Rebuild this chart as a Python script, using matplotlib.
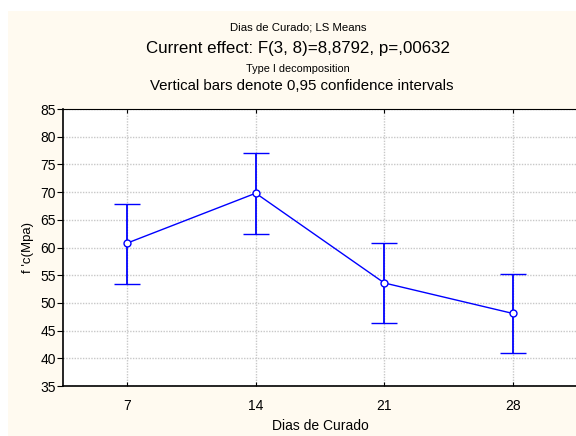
import matplotlib
matplotlib.use('Agg')
import matplotlib.pyplot as plt
import numpy as np

plt.rcParams['font.family'] = ['Liberation Sans', 'DejaVu Sans']

# Dias de curado vs LS means with 95% CI
dias = ['7', '14', '21', '28']
medias = [60.8, 69.8, 53.6, 48.1]
ic_sup = [67.9, 77.0, 60.8, 55.3]
ic_inf = [53.5, 62.5, 46.4, 40.9]

W, H = 576, 436
fig = plt.figure(figsize=(W / 100, H / 100), dpi=100, facecolor='white')
# cream panel (starts a few px in from the top-left corner)
fig.patches.append(plt.Rectangle((8 / W, 0), 1, 1 - 11 / H, transform=fig.transFigure,
                                 facecolor='#fffaf0', edgecolor='none', zorder=-10))

ax = fig.add_axes([63 / W, 1 - 386 / H, (577 - 63) / W, (386 - 109) / H])
ax.set_facecolor('white')

x = np.arange(len(dias))
err = [np.array(medias) - np.array(ic_inf), np.array(ic_sup) - np.array(medias)]
ax.errorbar(x, medias, yerr=err, color='#0000ff', lw=1.0, elinewidth=1.3,
            capsize=9.5, capthick=1.3, marker='o', markersize=5,
            markerfacecolor='white', markeredgecolor='#0000ff', markeredgewidth=1.0,
            zorder=3)

ax.set_xlim(-0.5, 3.5)
ax.set_ylim(35, 85)
ax.set_xticks(x)
ax.set_xticklabels(dias)
ax.set_yticks(np.arange(35, 86, 5))
ax.grid(True, color='#c8c8c8', linestyle=(0, (1, 1)), linewidth=1.0)
ax.set_axisbelow(True)

for s in ['left', 'bottom']:
    ax.spines[s].set_linewidth(1.2)
ax.spines['top'].set_linewidth(0.8)
ax.spines['right'].set_linewidth(0.8)

ax.tick_params(axis='y', which='both', left=True, right=False, direction='out',
               length=4, width=0.8, pad=1, labelsize=10)
ax.tick_params(axis='x', which='both', bottom=True, top=True, direction='in',
               length=3, width=0.8, pad=9, labelsize=10)

ax.set_xlabel('Dias de Curado', fontsize=10, labelpad=5)
ax.set_ylabel("f 'c(Mpa)", fontsize=9.5, labelpad=5)

fig.text(298 / W, 1 - 27 / H, 'Dias de Curado; LS Means', ha='center', va='center', fontsize=8.2)
fig.text(298 / W, 1 - 49 / H, 'Current effect: F(3, 8)=8,8792, p=,00632', ha='center', va='center', fontsize=12.2)
fig.text(298 / W, 1 - 69 / H, 'Type I decomposition', ha='center', va='center', fontsize=7.8)
fig.text(302 / W, 1 - 86 / H, 'Vertical bars denote 0,95 confidence intervals', ha='center', va='center', fontsize=10.8)

fig.savefig('out.png', dpi=100, facecolor=fig.get_facecolor())
